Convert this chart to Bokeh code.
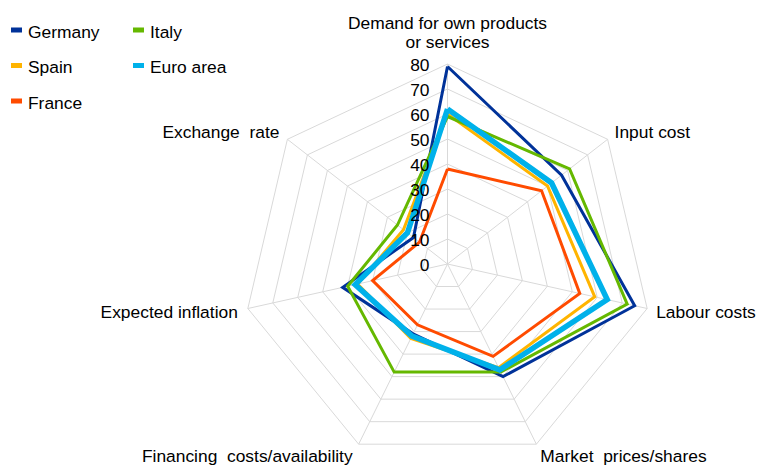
import numpy as np
from bokeh.plotting import figure
from bokeh.models import Range1d
from bokeh.embed import file_html
from bokeh.resources import INLINE
from bokeh.core.properties import value

# ---------------- data ----------------
categories = ["Demand for own products\nor services", "Input cost", "Labour costs",
              "Market \u00a0prices/shares", "Financing \u00a0costs/availability",
              "Expected inflation", "Exchange \u00a0rate"]
germany   = [79, 57, 75, 50, 31, 42, 17]
spain     = [60, 50, 59, 46, 33, 36, 22]
france    = [38, 47, 53, 41, 27, 30, 14]
italy     = [59, 61, 72, 48, 48, 40, 25]
euro_area = [62, 52, 64, 47, 32, 37, 20]
series_names = ["Germany", "Spain", "France", "Italy", "Euro area"]
series_values = [germany, spain, france, italy, euro_area]
tick_values = [0, 10, 20, 30, 40, 50, 60, 70, 80]
tick_labels = [str(t) for t in tick_values]

# ---------------- styles ----------------
colors = {"Germany": "#003299", "Spain": "#ffb400", "France": "#ff4b00",
          "Italy": "#65b800", "Euro area": "#00b1ea"}
widths = {"Germany": 3, "Spain": 3, "France": 3, "Italy": 3, "Euro area": 5.5}
FONT = "Liberation Sans"
FS = "17.4px"
W, H = 758, 465
SX, SY = 2.56, 2.5          # px per unit
CX, CY = 447, 263.5         # centre in figure px
x0 = -CX / SX
x1 = x0 + W / SX
ytop = CY / SY
ybot = ytop - H / SY

def px_to_data(px, py):
    return px / SX + x0, ytop - py / SY

n = len(categories)
theta = np.pi / 2 - np.arange(n) * 2 * np.pi / n
cos_t, sin_t = np.cos(theta), np.sin(theta)
rmax = tick_values[-1]

p = figure(width=W, height=H, x_range=Range1d(x0, x1), y_range=Range1d(ybot, ytop),
           x_axis_type=None, y_axis_type=None, toolbar_location=None,
           output_backend="svg", min_border=0)
p.grid.visible = False
p.outline_line_color = None
p.background_fill_color = "white"

grid_color = "#d9d9d9"
# rings
ring_xs, ring_ys = [], []
for t in tick_values[1:]:
    ring_xs.append(list(t * cos_t) + [t * cos_t[0]])
    ring_ys.append(list(t * sin_t) + [t * sin_t[0]])
p.multi_line(ring_xs, ring_ys, line_color=grid_color, line_width=1)
# spokes
p.multi_line([[0, rmax * c] for c in cos_t], [[0, rmax * s] for s in sin_t],
             line_color=grid_color, line_width=1)

# series
for name, vals in zip(series_names, series_values):
    v = np.array(vals, dtype=float)
    xs = list(v * cos_t) + [v[0] * cos_t[0]]
    ys = list(v * sin_t) + [v[0] * sin_t[0]]
    p.line(xs, ys, line_color=colors[name], line_width=widths[name], line_join="miter")

# tick labels
p.text(x=[0] * len(tick_values), y=tick_values, text=tick_labels,
       text_font=value(FONT), text_font_size=FS, text_color="#000000",
       text_align="right", text_baseline="middle", x_offset=-18, y_offset=1)

# axis labels (offsets in screen px from the outer vertex)
label_specs = [  # (x_offset, y_offset, align)
    (0, -22, "center"),
    (7, -7, "left"),
    (9, 3, "left"),
    (4, 12, "left"),
    (-6, 12, "right"),
    (-10, 3, "right"),
    (-8, -7, "right"),
]
for k, cat in enumerate(categories):
    xo, yo, al = label_specs[k]
    lines = cat.split("\n")
    for j, ln in enumerate(reversed(lines)):
        p.text(x=[rmax * cos_t[k]], y=[rmax * sin_t[k]], text=[ln],
               text_font=value(FONT), text_font_size=FS, text_color="#000000",
               text_align=al, text_baseline="middle", x_offset=xo, y_offset=yo - j * 19.5)

# legend (drawn manually, two columns, column-major order)
leg_col_px = [16, 138]
leg_row_px = [29.5, 65, 100.5]
leg_layout = [(0, 0), (0, 1), (0, 2), (1, 0), (1, 1)]
for name, (c, r) in zip(series_names, leg_layout):
    mx, my = px_to_data(leg_col_px[c], leg_row_px[r])
    p.rect(x=[mx], y=[my], width=11, height=5, width_units="screen", height_units="screen",
           fill_color=colors[name], line_color=None)
    p.text(x=[mx], y=[my], text=[name], text_font=value(FONT), text_font_size=FS,
           text_color="#000000", text_align="left", text_baseline="middle",
           x_offset=11.5, y_offset=1.5)

open("out.html", "w").write(file_html(p, INLINE))
